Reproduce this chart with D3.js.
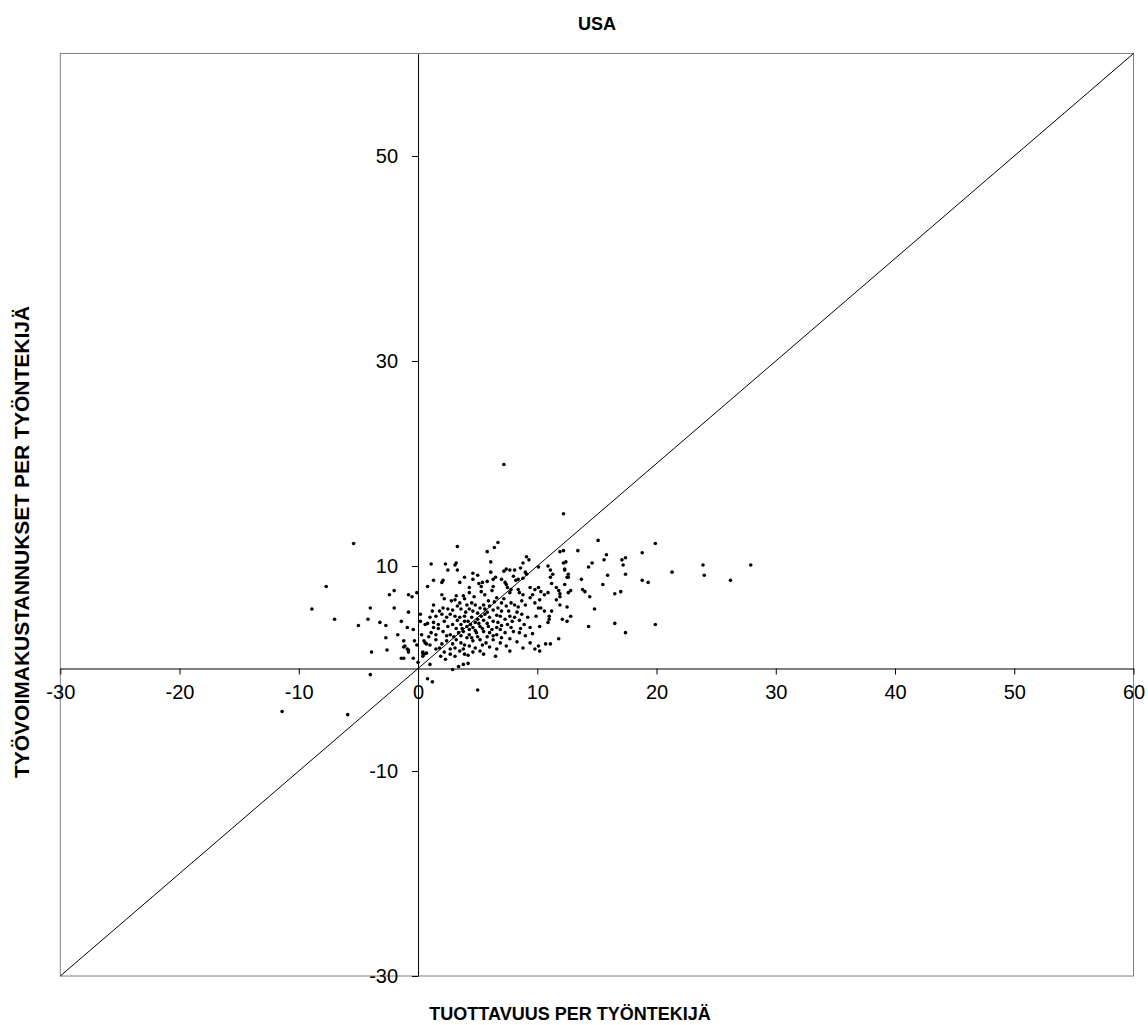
<!DOCTYPE html>
<html><head><meta charset="utf-8">
<script src="https://cdn.jsdelivr.net/npm/d3@7"></script>
<style>body{margin:0;background:#fff}svg{display:block}text{font-family:"Liberation Sans",Arial,sans-serif}</style>
</head><body>
<script>
const title = "USA";
const xLabel = "TUOTTAVUUS PER TYÖNTEKIJÄ";
const yLabel = "TYÖVOIMAKUSTANNUKSET PER TYÖNTEKIJÄ";
const xTicks = [-30,-20,-10,0,10,20,30,40,50,60];
const yTicks = [-30,-10,10,30,50];
const xDomain = [-30,60];
const yDomain = [-30,60];
const diagonal = [[-30,-30],[60,60]];

const pointsLeft = [[-5.4,12.2],[-7.7,8.0],[-8.9,5.8],[-7.0,4.8],[-4.0,5.9],[-4.2,4.8],[-5.0,4.2],[-3.2,4.5],[-2.7,4.2],[-2.4,7.2],[-2.0,7.6],[-2.0,5.9],[-1.7,3.3],[-2.7,3.0],[-3.9,1.6],[-2.6,1.8],[-4.0,-0.6],[-11.4,-4.2],[-5.9,-4.5],
[-1.4,1.0],[-1.2,1.0],[-1.1,2.2],[-0.9,1.9],[-0.4,1.0],[0.8,-1.0],[1.2,-1.3],[1.0,0.4],[0.4,1.5],[0.4,1.2],[0.7,1.5]];
const pointsUpper = [[3.3,11.9],[1.1,10.2],[2.3,10.2],[3.1,10.1],[3.2,10.3],[2.5,9.6],[3.3,9.6],[4.6,9.3],[5.0,9.1],[3.9,8.9],[4.6,8.7],[1.3,8.6],[2.1,8.6],[2.0,8.4],[3.5,8.4],[5.1,8.3],[0.8,8.0],[-0.8,7.2],[-0.5,7.0],[-0.1,7.4],[2.0,7.2],
[7.2,19.9],[12.2,15.1]];
const pointsNearZero = [[-0.8,5.5],[0.2,5.3],[-1.4,4.6],[-0.9,4.0],[-0.4,3.8],[0.2,4.6],[0.6,4.3],[0.8,4.4],[-1.2,2.7],[-0.3,2.7],[-0.1,2.3],[-1.2,2.1],[-0.8,1.8],[-0.8,1.6],[0.5,2.7],[0.6,2.5],[0.7,2.4],[0.4,1.6],[0.5,1.4],[2.9,-0.1],[3.4,0.2],[3.8,0.4],[4.2,0.5],[5.0,-2.1],[0.0,0.6],[0.3,3.3]];
const pointsCore = [[4.3,7.9],[5.3,8.0],[6.3,8.0],[5.3,7.5],[6.2,7.6],[4.3,7.4],[3.2,7.1],[3.8,7.1],
[2.8,6.6],[3.1,6.7],[3.5,6.4],[4.1,6.2],[4.5,6.4],[4.8,6.2],[5.2,5.9],[5.5,6.2],[5.9,6.6],[6.6,6.9],[7.0,6.4],[6.7,5.9],[7.4,6.1],[7.8,6.4],[8.1,6.2],[8.7,6.6],[9.4,6.9],[9.8,6.4],[10.1,5.9],[1.3,6.2],[2.1,5.9],[2.5,5.8],[3.6,5.8],[4.3,5.8],[5.6,5.8],[7.0,5.6],
[1.0,5.0],[1.5,5.1],[2.0,5.3],[2.4,5.0],[2.7,5.3],[3.1,5.1],[3.5,5.0],[3.9,5.1],[4.2,4.6],[4.5,5.0],[4.8,4.5],[5.0,4.8],[5.3,5.1],[5.6,5.3],[6.0,5.0],[6.3,4.6],[6.9,5.1],[7.3,4.8],[7.7,5.1],[8.1,5.0],[8.7,5.3],[9.2,5.0],[9.9,5.1],[1.3,4.5],[1.7,4.3],[2.2,4.6],[2.9,4.3],[3.6,4.3],[4.1,4.1],[4.6,4.0],[5.2,4.1],[5.9,4.1],[6.6,4.0],[7.5,4.3],[8.9,4.3],[9.4,4.0],
[1.1,3.5],[1.5,3.3],[2.1,3.6],[2.7,3.3],[3.4,3.5],[3.8,3.6],[4.3,3.3],[4.9,3.5],[5.5,3.6],[6.0,3.5],[6.6,3.3],[7.3,3.5],[8.0,3.6],[1.5,2.8],[2.4,2.7],[3.2,2.8],[3.6,2.5],[4.1,3.0],[4.6,2.7],[5.2,2.8],[5.7,2.5],[6.3,2.8],[6.9,2.5],[7.4,2.2],[9.4,2.5],[10.1,2.2],
[1.8,2.0],[2.7,1.9],[3.1,2.0],[3.5,1.7],[3.8,1.9],[4.8,2.0],[5.2,1.7],[5.5,1.4],[2.7,1.4],[3.1,1.2],[4.2,1.3],[7.7,1.7],[9.8,1.9],[10.2,1.7]];
const pointsCoreExtra = [[2.2,6.8],[3.9,6.8],[4.7,7.0],[5.6,7.2],[6.0,6.1],[6.4,6.5],[7.2,6.8],[8.4,6.0],[9.0,6.2],[3.3,6.1],[4.0,5.5],[4.6,5.6],[5.0,5.4],[5.8,5.5],[6.3,5.7],[6.6,5.2],[7.6,5.6],[8.3,5.5],[2.9,5.7],[1.8,5.6],[1.2,5.6],
[3.3,4.7],[3.9,4.6],[4.4,4.3],[5.1,4.4],[5.5,4.7],[5.8,4.4],[6.7,4.5],[7.0,4.2],[7.9,4.6],[8.5,4.7],[2.5,4.1],[3.2,3.9],[3.7,3.9],[4.3,3.8],[4.8,3.7],[5.4,3.9],[6.2,3.8],[6.9,3.8],[7.8,4.0],[8.5,3.5],
[2.4,3.2],[3.0,3.1],[3.6,3.2],[4.5,3.0],[5.0,3.1],[5.8,3.1],[6.3,3.2],[7.0,3.0],[7.7,2.9],[8.3,2.6],[2.0,2.4],[2.9,2.4],[3.9,2.3],[4.3,2.2],[5.4,2.3],[6.0,2.1],[6.6,1.9],[2.2,1.6],[3.9,1.4],[4.6,1.6],[1.5,1.9],[1.9,1.2],[2.3,0.9],[6.5,1.2],[8.8,2.0],[9.0,3.2],[8.6,3.9],[9.6,3.4],[1.7,3.9],[1.3,4.0],[0.9,3.1],[1.0,2.3]];
const pointsRight = [[6.7,12.3],[6.4,11.8],[5.8,11.4],[6.1,10.4],[9.1,10.9],[9.3,10.6],[8.8,10.3],[6.1,9.4],[7.2,9.5],[7.4,9.7],[7.7,9.6],[8.1,9.6],[8.6,9.8],[9.0,9.4],[9.1,9.2],[10.1,9.9],[10.9,10.0],[11.1,9.6],[6.5,8.9],[6.3,8.7],[5.8,8.5],[5.4,8.4],[7.0,8.7],[7.3,8.4],[8.0,9.0],[8.2,8.6],[8.4,8.7],[8.8,8.8],[11.3,9.2],[11.1,8.9],[11.2,8.3],[11.6,7.9],[11.8,7.6],[11.9,7.3],
[7.4,8.2],[7.5,7.9],[7.8,7.7],[7.7,7.4],[8.4,7.7],[8.5,7.4],[8.8,7.2],[9.4,7.9],[9.8,7.7],[10.1,7.9],[10.3,7.5],[10.6,7.2],[10.9,7.4],[9.6,7.2],[11.6,6.7],[11.9,6.2],
[10.7,2.4],[11.1,2.4],[11.8,2.9],[10.2,4.1],[10.9,4.5],[11.0,4.8],[10.3,5.9],[10.6,5.6],[11.2,5.6],[11.0,5.1],[10.2,6.7]];
const pointsFar = [[15.1,12.5],[11.9,11.4],[12.2,11.5],[13.4,11.5],[15.8,11.1],[15.6,10.6],[17.1,10.6],[17.4,10.8],[17.2,10.1],[12.2,10.3],[12.4,10.4],[12.3,9.7],[12.3,9.6],[12.6,9.2],[12.5,8.9],[12.6,8.9],[14.6,10.3],[14.3,9.9],[15.9,9.1],[17.4,9.2],[13.7,8.7],[12.3,8.2],[15.5,8.2],[12.8,7.6],[12.6,7.4],[11.9,7.0],[13.8,7.7],[14.0,7.5],[14.4,7.0],[16.5,7.3],[17.0,7.5],[12.5,6.0],[14.8,5.8],[12.1,4.8],[12.5,4.6],[12.8,5.1],[14.3,4.1],[16.5,4.4],[17.4,3.5],
[19.9,12.2],[18.8,11.3],[23.9,10.1],[27.9,10.1],[21.3,9.4],[24.0,9.1],[18.8,8.6],[19.3,8.4],[26.2,8.6],[19.9,4.3]];

const points = [].concat(pointsLeft, pointsUpper, pointsNearZero, pointsCore, pointsCoreExtra, pointsRight, pointsFar);

const W = 1148, H = 1025;
const L = 60.3, R = 1133.5, T = 53.5, B = 976;
const svg = d3.select("body").append("svg").attr("width", W).attr("height", H);
const x = d3.scaleLinear().domain(xDomain).range([L, R]);
const y = d3.scaleLinear().domain(yDomain).range([B, T]);

svg.append("rect").attr("x", L).attr("y", T).attr("width", R - L).attr("height", B - T)
  .attr("fill", "none").attr("stroke", "#808080").attr("stroke-width", 1);

svg.append("line").attr("x1", x(diagonal[0][0])).attr("y1", y(diagonal[0][1]))
  .attr("x2", x(diagonal[1][0])).attr("y2", y(diagonal[1][1])).attr("stroke", "#000").attr("stroke-width", 1);

const fmt = d => String(d);
const xAxis = d3.axisBottom(x).tickValues(xTicks).tickSize(6).tickSizeOuter(0).tickPadding(10).tickFormat(fmt);
const gx = svg.append("g").attr("transform", `translate(0,${y(0)})`).call(xAxis);
const yAxis = d3.axisLeft(y).tickValues(yTicks).tickSize(6).tickSizeOuter(0).tickPadding(14).tickFormat(fmt);
const gy = svg.append("g").attr("transform", `translate(${x(0)},0)`).call(yAxis);
[gx, gy].forEach(g => {
  g.select(".domain").attr("stroke", "#000");
  g.selectAll(".tick line").attr("stroke", "#000");
  g.selectAll(".tick text").attr("font-size", 20).attr("fill", "#000").style("font-family", '"Liberation Sans", Arial, sans-serif');
});
gx.selectAll(".tick text").attr("dy", "0.71em");

svg.append("g").selectAll("circle").data(points).join("circle")
  .attr("cx", d => x(d[0])).attr("cy", d => y(d[1])).attr("r", 1.8).attr("fill", "#000");

svg.append("text").attr("x", 597).attr("y", 30).attr("text-anchor", "middle")
  .attr("font-size", 18).attr("font-weight", "bold").text(title);
svg.append("text").attr("x", 570).attr("y", 1020).attr("text-anchor", "middle")
  .attr("font-size", 18).attr("font-weight", "bold").text(xLabel);
svg.append("text").attr("transform", `translate(29,542) rotate(-90)`).attr("text-anchor", "middle")
  .attr("font-size", 21).attr("font-weight", "bold").text(yLabel);
</script>
</body></html>
